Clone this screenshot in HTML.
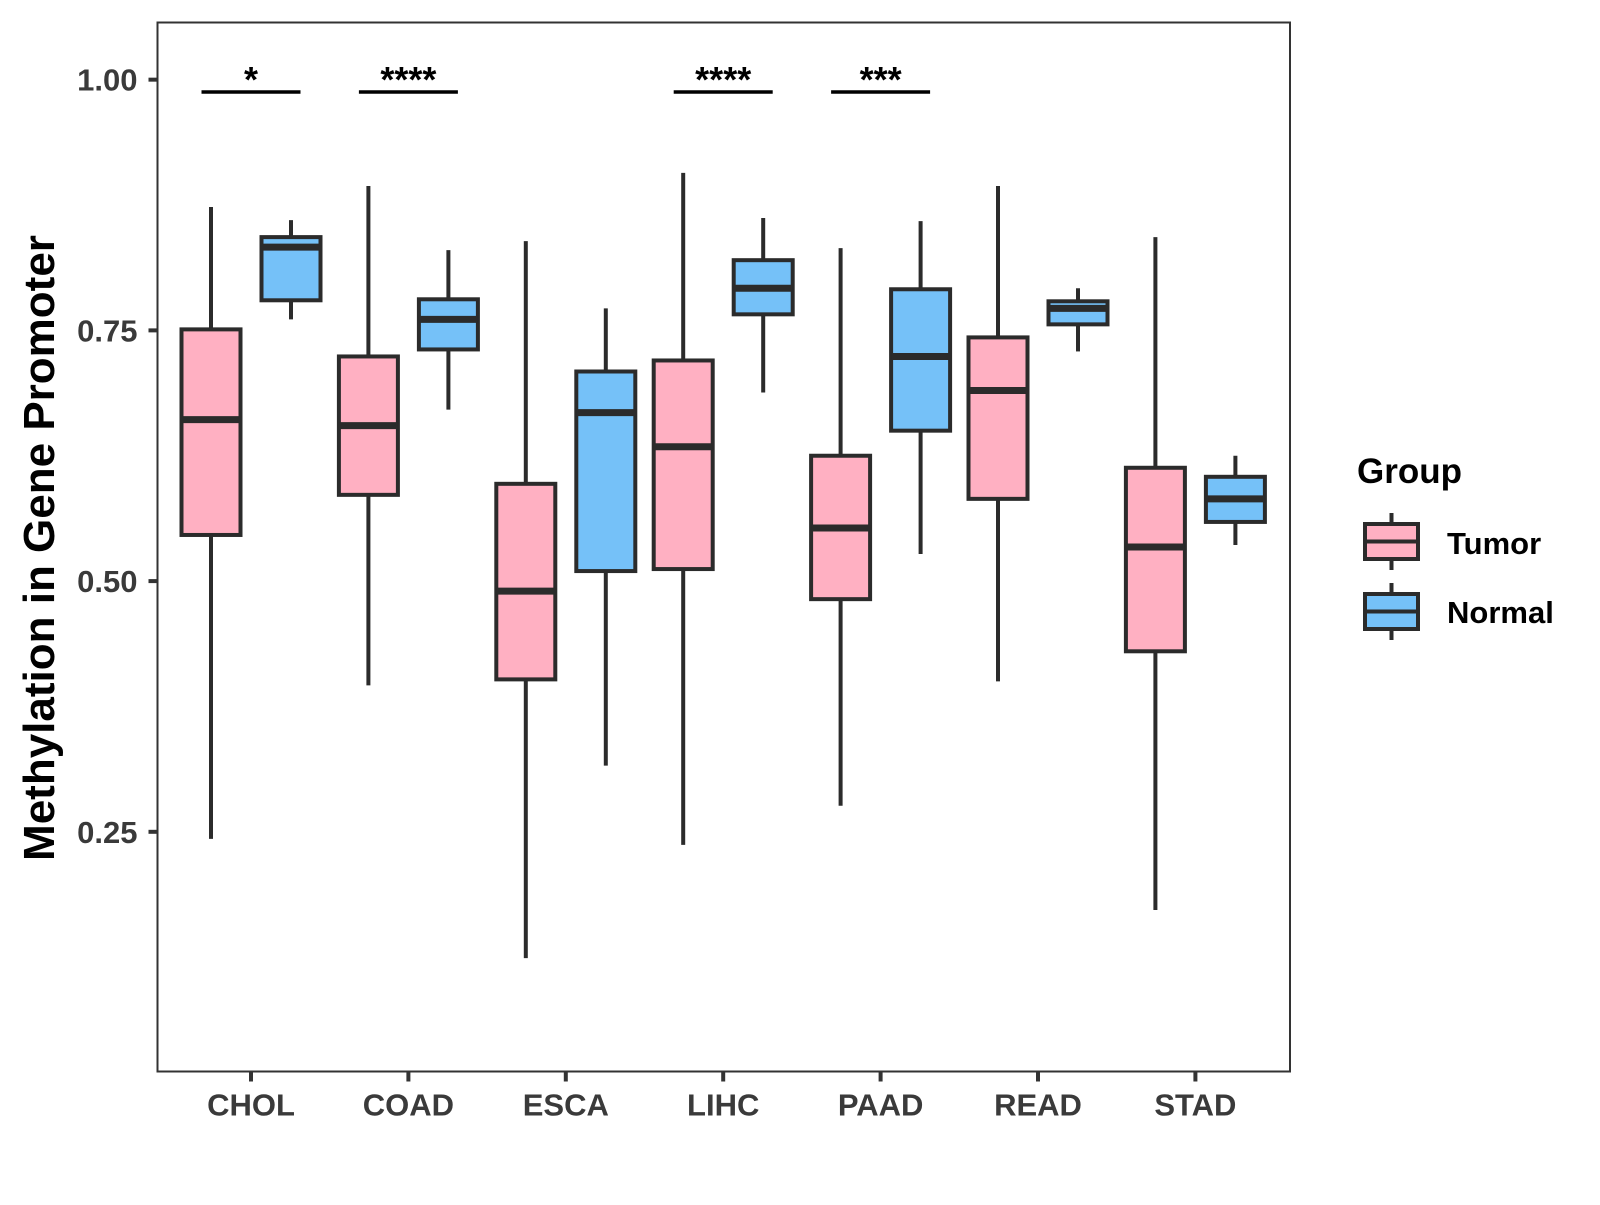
<!DOCTYPE html>
<html><head><meta charset="utf-8"><style>
html,body{margin:0;padding:0;background:#fff;}
svg text{font-family:"Liberation Sans",sans-serif;font-weight:bold;}
</style></head><body>
<svg id="chart" width="1600" height="1200" xmlns="http://www.w3.org/2000/svg">
<rect x="0" y="0" width="1600" height="1200" fill="#fff"/>
<g id="plot"></g>
<text transform="translate(54,548) rotate(-90)" text-anchor="middle" font-size="44" fill="#000">Methylation in Gene Promoter</text>
<g>
<text x="1357" y="483" font-size="35" fill="#000">Group</text>
<g>
<line x1="1391.5" y1="513" x2="1391.5" y2="570" stroke="#2b2b2b" stroke-width="4"/>
<rect x="1365" y="524" width="53" height="35" fill="#FFB0C2" stroke="#2b2b2b" stroke-width="4"/>
<line x1="1365" y1="541.5" x2="1418" y2="541.5" stroke="#2b2b2b" stroke-width="4"/>
<text x="1447" y="554" font-size="31" fill="#000">Tumor</text></g>
<g>
<line x1="1391.5" y1="583" x2="1391.5" y2="640" stroke="#2b2b2b" stroke-width="4"/>
<rect x="1365" y="594" width="53" height="35" fill="#75C1F8" stroke="#2b2b2b" stroke-width="4"/>
<line x1="1365" y1="611.5" x2="1418" y2="611.5" stroke="#2b2b2b" stroke-width="4"/>
<text x="1447" y="623" font-size="31" fill="#000">Normal</text></g>
</g>
</svg>
<script>
const categories=["CHOL","COAD","ESCA","LIHC","PAAD","READ","STAD"];
// [whiskerLow, Q1, median, Q3, whiskerHigh]
const tumorStats=[[0.243,0.546,0.661,0.751,0.873],[0.396,0.586,0.655,0.724,0.894],[0.124,0.402,0.490,0.597,0.839],[0.237,0.512,0.634,0.720,0.907],[0.276,0.482,0.553,0.625,0.832],[0.400,0.582,0.690,0.743,0.894],[0.172,0.430,0.534,0.613,0.843]];
const normalStats=[[0.761,0.780,0.833,0.843,0.860],[0.671,0.731,0.761,0.781,0.830],[0.316,0.510,0.668,0.709,0.772],[0.688,0.766,0.792,0.820,0.862],[0.527,0.650,0.724,0.791,0.859],[0.729,0.756,0.772,0.779,0.792],[0.536,0.559,0.582,0.604,0.625]];
const signif=["*","****","","****","***","",""];
const yTicks=[0.25,0.50,0.75,1.00];
const yTickLabels=["0.25","0.50","0.75","1.00"];

const L=157.5,R=1290,T=22.5,B=1071.5;
const yMin=0.011,yMax=1.057;
function y(v){return B-(v-yMin)/(yMax-yMin)*(B-T);}
function x(i){return 251+i*157.4;}
const NS="http://www.w3.org/2000/svg";
const plot=document.getElementById('plot');
function mk(tag,attrs,parent){const e=document.createElementNS(NS,tag);for(const k in attrs)e.setAttribute(k,attrs[k]);(parent||plot).appendChild(e);return e;}

const frame=mk('rect',{x:L,y:T,width:R-L,height:B-T,fill:'none',stroke:'#333',"stroke-width":2});



yTicks.forEach((t,i)=>{
  const tk=mk('line',{x1:L-9,x2:L,y1:y(t),y2:y(t),stroke:'#333',"stroke-width":4});
  
  
  const lb=mk('text',{x:L-20,y:y(t)+11,"text-anchor":"end","font-size":31,fill:'#3a3a3a'});
  lb.textContent=yTickLabels[i];
  
  
});
categories.forEach((c,i)=>{
  const tk=mk('line',{x1:x(i),x2:x(i),y1:B,y2:B+10,stroke:'#333',"stroke-width":4});
  
  
  const lb=mk('text',{x:x(i),y:B+44,"text-anchor":"middle","font-size":31,fill:'#3a3a3a'});
  lb.textContent=c;
  
  
});

const bw=59,off=40;
function box(s,cx,fill,name){
  const g=mk('g',{});
  
  
  mk('line',{x1:cx,x2:cx,y1:y(s[0]),y2:y(s[4]),stroke:'#2b2b2b',"stroke-width":4},g);
  mk('rect',{x:cx-bw/2,y:y(s[3]),width:bw,height:y(s[1])-y(s[3]),fill:fill,stroke:'#2b2b2b',"stroke-width":4},g);
  mk('line',{x1:cx-bw/2,x2:cx+bw/2,y1:y(s[2]),y2:y(s[2]),stroke:'#2b2b2b',"stroke-width":7},g);
}
categories.forEach((c,i)=>{
  box(tumorStats[i],x(i)-off,'#FFB0C2','box-'+c.toLowerCase()+'-tumor');
  box(normalStats[i],x(i)+off,'#75C1F8','box-'+c.toLowerCase()+'-normal');
  if(signif[i]){
    const ln=mk('line',{x1:x(i)-49.5,x2:x(i)+49.5,y1:92,y2:92,stroke:'#000',"stroke-width":3.5});
    
    
    const st=mk('text',{x:x(i),y:92,"text-anchor":"middle","font-size":36,fill:'#000'});
    st.textContent=signif[i];
    
    
  }
});
</script>
</body></html>
